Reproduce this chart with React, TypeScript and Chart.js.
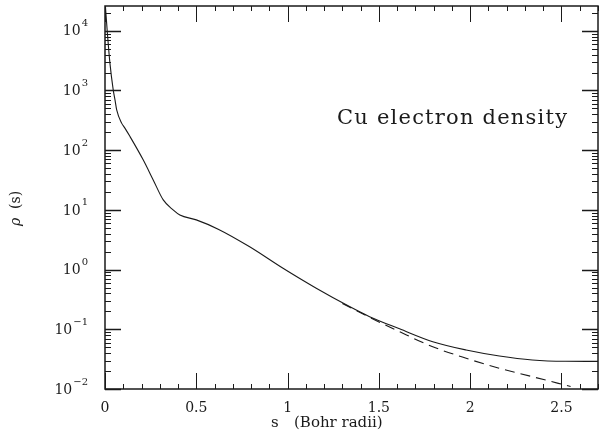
import React, { useEffect, useRef } from "react";
import { Chart, registerables } from "chart.js";

Chart.register(...registerables);

// Solid curve: Cu electron density rho(s)
const sValues = [0, 0.0126, 0.027, 0.045, 0.0547, 0.064, 0.091, 0.109, 0.137, 0.209, 0.264, 0.319, 0.373, 0.41, 0.5, 0.62, 0.79, 0.975, 1.157, 1.339, 1.449, 1.613, 1.795, 1.978, 2.16, 2.34, 2.52, 2.7];
const rhoValues = [32000, 9500, 2870, 1025, 697, 474, 284, 234, 169, 69, 31.8, 14.7, 10, 8.2, 6.8, 4.75, 2.43, 1.05, 0.486, 0.24, 0.163, 0.102, 0.062, 0.045, 0.0357, 0.0306, 0.0291, 0.029];

// Dashed tail (asymptotic branch)
const tailS = [1.3, 1.45, 1.613, 1.795, 1.978, 2.16, 2.34, 2.55];
const tailRho = [0.27, 0.158, 0.091, 0.051, 0.0327, 0.0222, 0.0161, 0.011];

const xTickLabels = ["0", "0.5", "1", "1.5", "2", "2.5"];
const xTickValues = [0, 0.5, 1, 1.5, 2, 2.5];
const yDecades = [-2, -1, 0, 1, 2, 3, 4];

const X_MIN = 0;
const X_MAX = 2.7;
const Y_MIN = 0.01;
const Y_MAX = 26000;

const INK = "#1a1a1a";
const SERIF = "'DejaVu Serif', 'Liberation Serif', serif";

const framePlugin = {
  id: "framePlugin",
  afterDraw(chart: any) {
    const { ctx, chartArea } = chart;
    const xs = chart.scales.x;
    const ys = chart.scales.y;
    const { left, right, top, bottom } = chartArea;
    ctx.save();
    ctx.strokeStyle = INK;
    ctx.lineWidth = 1.5;
    ctx.strokeRect(left, top, right - left, bottom - top);

    ctx.lineWidth = 1;
    // x ticks (minor every 0.1, major every 0.5)
    for (let i = 0; i <= 27; i++) {
      const v = i / 10;
      const px = Math.round(xs.getPixelForValue(v)) + 0.5;
      const len = i % 5 === 0 ? 16 : 5;
      ctx.beginPath();
      ctx.moveTo(px, bottom);
      ctx.lineTo(px, bottom - len);
      ctx.moveTo(px, top);
      ctx.lineTo(px, top + len);
      ctx.stroke();
    }
    // y ticks
    for (const d of yDecades) {
      for (let m = 1; m <= 9; m++) {
        const v = m * Math.pow(10, d);
        if (v < Y_MIN || v > Y_MAX) continue;
        const py = Math.round(ys.getPixelForValue(v)) + 0.5;
        const len = m === 1 ? 16 : 6;
        ctx.lineWidth = m === 1 ? 1.5 : 1;
        ctx.beginPath();
        ctx.moveTo(left, py);
        ctx.lineTo(left + len, py);
        ctx.moveTo(right, py);
        ctx.lineTo(right - len, py);
        ctx.stroke();
      }
    }

    ctx.fillStyle = INK;
    // x tick labels
    ctx.font = `14px ${SERIF}`;
    ctx.textAlign = "center";
    ctx.textBaseline = "middle";
    xTickValues.forEach((v, i) => {
      ctx.fillText(xTickLabels[i], xs.getPixelForValue(v), bottom + 19);
    });

    // y tick labels 10^d
    for (const d of yDecades) {
      const py = ys.getPixelForValue(Math.pow(10, d));
      const exp = d < 0 ? "\u2212" + Math.abs(d) : String(d);
      ctx.font = `10px ${SERIF}`;
      const ew = ctx.measureText(exp).width;
      ctx.textAlign = "right";
      ctx.textBaseline = "middle";
      const rightEdge = left - 17;
      ctx.fillText(exp, rightEdge, py - 7);
      ctx.font = `14px ${SERIF}`;
      ctx.fillText("10", rightEdge - ew - 1, py + 1);
    }

    // x axis title
    ctx.font = `15px ${SERIF}`;
    ctx.textAlign = "left";
    ctx.textBaseline = "middle";
    ctx.fillText("s", 271, bottom + 34);
    ctx.fillText("(Bohr radii)", 294, bottom + 34);

    // y axis title
    ctx.save();
    ctx.translate(16, (top + bottom) / 2 + 11);
    ctx.rotate(-Math.PI / 2);
    ctx.textBaseline = "middle";
    const rho = "\u03C1";
    const rest = "  (s)";
    ctx.font = `14px ${SERIF}`;
    const wRest = ctx.measureText(rest).width;
    ctx.font = `italic 14px ${SERIF}`;
    const wRho = ctx.measureText(rho).width;
    const total = wRho + wRest;
    ctx.textAlign = "left";
    ctx.fillText(rho, -total / 2, 0);
    ctx.font = `14px ${SERIF}`;
    ctx.fillText(rest, -total / 2 + wRho, 0);
    ctx.restore();

    // annotation
    const note = "Cu electron density";
    ctx.font = `21px ${SERIF}`;
    const w = ctx.measureText(note).width;
    const spacing = Math.max(0, (230 - w) / (note.length - 1));
    ctx.textAlign = "left";
    ctx.textBaseline = "middle";
    let cx = 337;
    for (const ch of note) {
      ctx.fillText(ch, cx, 119);
      cx += ctx.measureText(ch).width + spacing;
    }

    ctx.restore();
  },
};

export default function App() {
  const canvasRef = useRef<HTMLCanvasElement | null>(null);

  useEffect(() => {
    document.body.style.margin = "0";
    const canvas = canvasRef.current;
    if (!canvas) return;
    const chart = new Chart(canvas, {
      type: "line",
      data: {
        datasets: [
          {
            data: sValues.map((s, i) => ({ x: s, y: rhoValues[i] })),
            borderColor: INK,
            borderWidth: 1.1,
            pointRadius: 0,
            fill: false,
            cubicInterpolationMode: "monotone",
          },
          {
            data: tailS.map((s, i) => ({ x: s, y: tailRho[i] })),
            borderColor: INK,
            borderWidth: 1.1,
            borderDash: [10, 6],
            pointRadius: 0,
            fill: false,
            cubicInterpolationMode: "monotone",
          },
        ],
      },
      options: {
        responsive: false,
        animation: false,
        devicePixelRatio: 1,
        layout: { padding: { left: 105, right: 2, top: 6, bottom: 48 } },
        plugins: {
          legend: { display: false },
          tooltip: { enabled: false },
          title: { display: false },
        },
        scales: {
          x: { type: "linear", min: X_MIN, max: X_MAX, display: false },
          y: { type: "logarithmic", min: Y_MIN, max: Y_MAX, display: false },
        },
      },
      plugins: [framePlugin],
    });
    return () => chart.destroy();
  }, []);

  return (
    <div style={{ width: 600, height: 437, background: "#fff" }}>
      <canvas ref={canvasRef} width={600} height={437} style={{ display: "block" }} />
    </div>
  );
}
